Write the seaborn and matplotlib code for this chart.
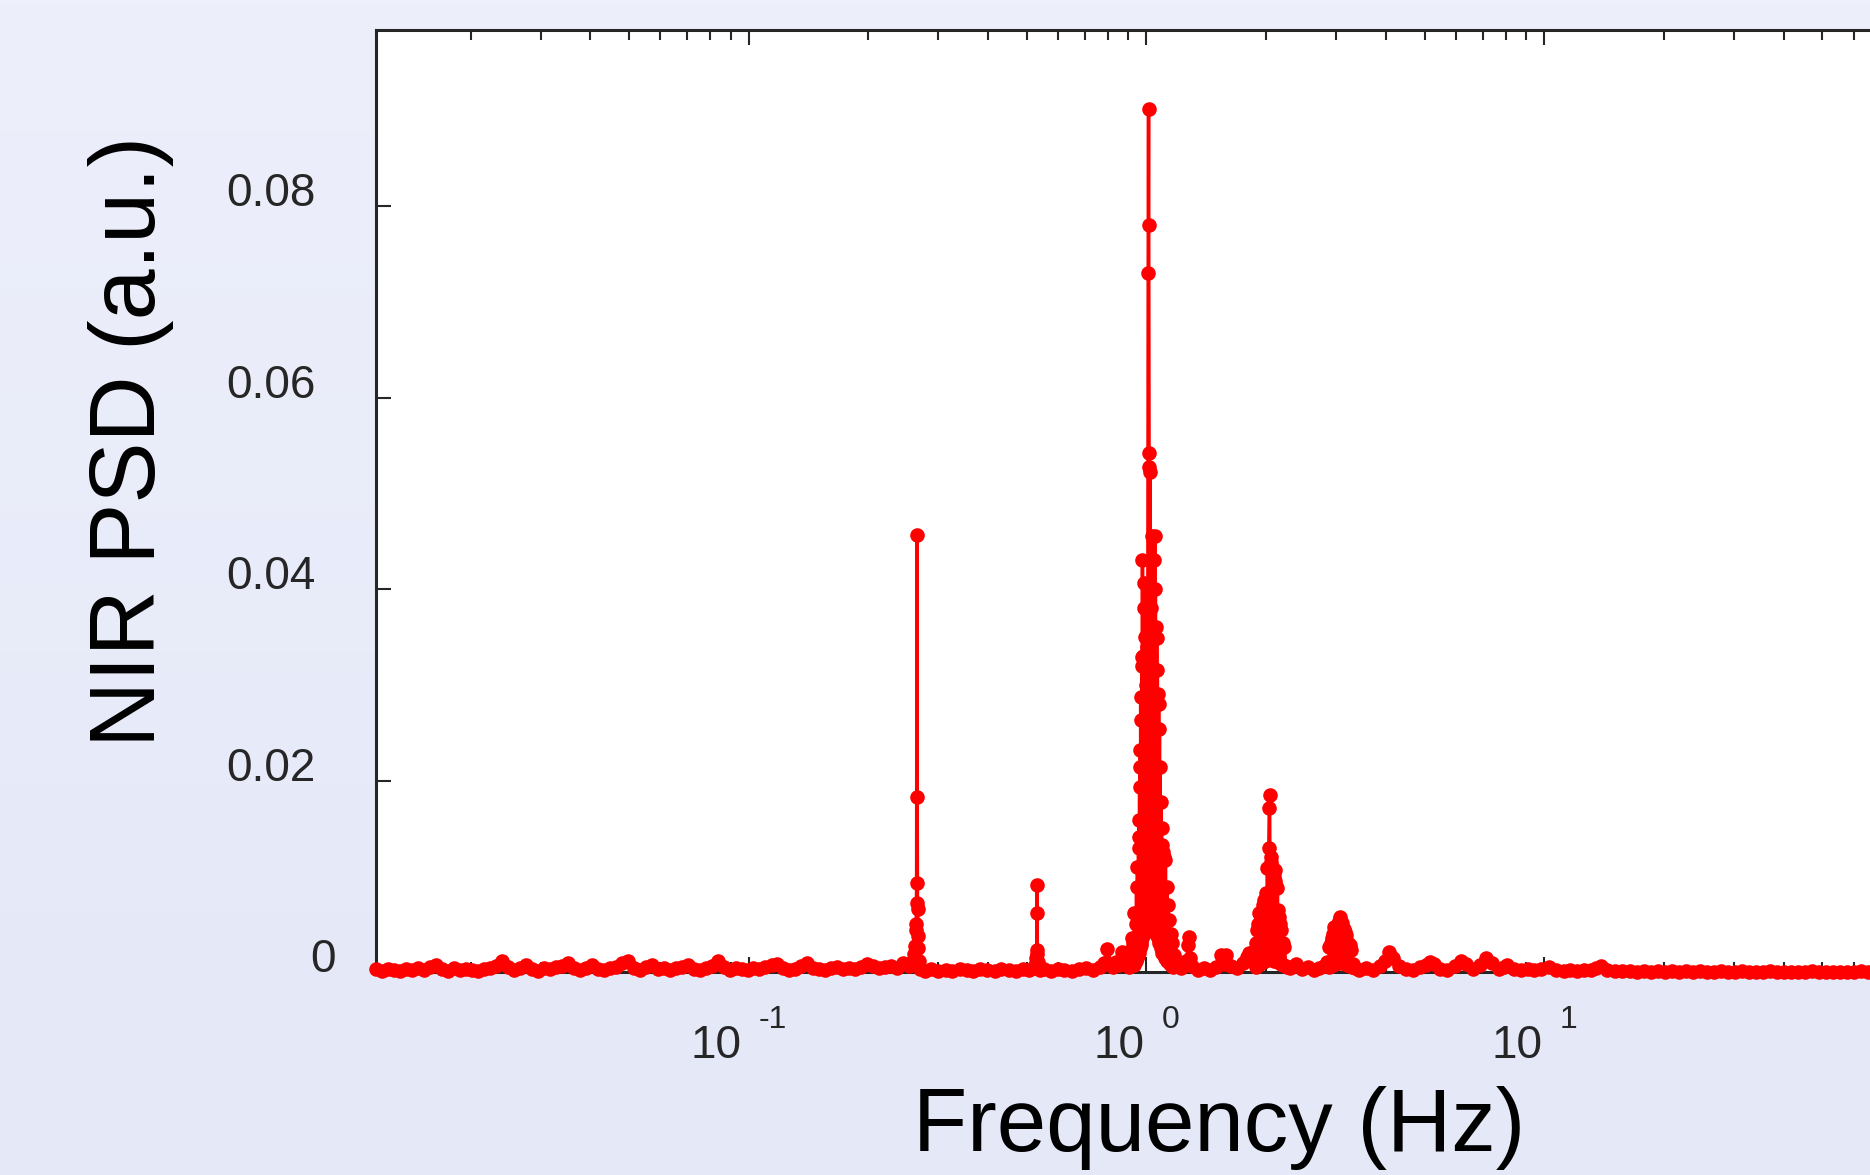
import numpy as np
import pandas as pd
import matplotlib
matplotlib.use('Agg')
import matplotlib.pyplot as plt
import seaborn as sns
from matplotlib.ticker import NullLocator

# values, (frequency Hz, PSD a.u.) per stretch of the spectrum
low_band = [
    (0.01156, 0.0003), (0.01197, 0.0001), (0.01239, 0.0003), (0.01283, 0.0002),
    (0.01328, 0.0001), (0.01375, 0.0003), (0.01424, 0.0002), (0.01474, 0.0004),
    (0.01526, 0.0002), (0.01580, 0.0005), (0.01636, 0.0007), (0.01693, 0.0003),
    (0.01753, 0.0001), (0.01815, 0.0004), (0.01879, 0.0002), (0.01945, 0.0003),
    (0.02014, 0.0002), (0.02085, 0.0001), (0.02159, 0.0003), (0.02235, 0.0004),
    (0.02314, 0.0006), (0.02395, 0.0011), (0.02480, 0.0005), (0.02567, 0.0002),
    (0.02658, 0.0004), (0.02752, 0.0007), (0.02849, 0.0003), (0.02949, 0.0001),
    (0.03053, 0.0004), (0.03161, 0.0003), (0.03273, 0.0005), (0.03388, 0.0006),
    (0.03508, 0.0009), (0.03632, 0.0004), (0.03760, 0.0002), (0.03892, 0.0004),
    (0.04030, 0.0007), (0.04172, 0.0003), (0.04319, 0.0002), (0.04472, 0.0004),
    (0.04630, 0.0005), (0.04793, 0.0009), (0.04962, 0.0011), (0.05137, 0.0004),
    (0.05319, 0.0002), (0.05506, 0.0005), (0.05701, 0.0007), (0.05902, 0.0003),
    (0.06110, 0.0004), (0.06326, 0.0002), (0.06549, 0.0004), (0.06780, 0.0005),
    (0.07020, 0.0007), (0.07267, 0.0003), (0.07524, 0.0002), (0.07789, 0.0004),
    (0.08064, 0.0006), (0.08349, 0.0011), (0.08644, 0.0005), (0.08949, 0.0002),
    (0.09265, 0.0004), (0.09592, 0.0003), (0.09930, 0.0002), (0.1028, 0.0004),
    (0.1064, 0.0003), (0.1102, 0.0005), (0.1141, 0.0007), (0.1181, 0.0008),
    (0.1223, 0.0004), (0.1266, 0.0002), (0.1311, 0.0003), (0.1357, 0.0006),
    (0.1405, 0.0009), (0.1454, 0.0004), (0.1506, 0.0003), (0.1559, 0.0002),
    (0.1614, 0.0004), (0.1671, 0.0005), (0.1730, 0.0003), (0.1791, 0.0004),
    (0.1854, 0.0003), (0.1919, 0.0005), (0.1987, 0.0008), (0.2057, 0.0006),
    (0.2130, 0.0004), (0.2205, 0.0005), (0.2283, 0.0006), (0.2363, 0.0004),
    (0.2447, 0.0009), (0.2533, 0.0006),
]

spike_027 = [
    (0.2580, 0.0010), (0.2610, 0.0019), (0.2625, 0.0027), (0.2632, 0.0044),
    (0.2638, 0.0050), (0.2643, 0.0093), (0.2648, 0.0456), (0.2652, 0.0183),
    (0.2656, 0.0072), (0.2660, 0.0066), (0.2665, 0.0038), (0.2670, 0.0025),
    (0.2680, 0.0012), (0.2700, 0.0003),
]

mid_band = [
    (0.2770, 0.0001), (0.2880, 0.0003), (0.3000, 0.0001), (0.3130, 0.0002),
    (0.3250, 0.0001), (0.3390, 0.0003), (0.3530, 0.0002), (0.3670, 0.0001),
    (0.3820, 0.0003), (0.3980, 0.0002), (0.4150, 0.0001), (0.4320, 0.0003),
    (0.4500, 0.0002), (0.4690, 0.0001), (0.4880, 0.0003), (0.5080, 0.0002),
    (0.5200, 0.0004), (0.5260, 0.0007),
    (0.5510, 0.0003), (0.5740, 0.0001), (0.5980, 0.0003), (0.6220, 0.0002),
    (0.6480, 0.0001), (0.6750, 0.0003), (0.7030, 0.0004), (0.7320, 0.0002),
    (0.7620, 0.0005), (0.7800, 0.0009), (0.7980, 0.0024), (0.8150, 0.0008),
    (0.8260, 0.0005), (0.8400, 0.0010), (0.8550, 0.0007), (0.8700, 0.0021),
    (0.8800, 0.0009),
]

spike_053 = [
    (0.5290, 0.0015), (0.5300, 0.0023), (0.5305, 0.0091), (0.5310, 0.0062),
    (0.5315, 0.0019), (0.5330, 0.0010), (0.5400, 0.0002),
]

main_peak = [
    (0.900, 0.0012), (0.905, 0.0005), (0.910, 0.0022), (0.914, 0.0006),
    (0.917, 0.0036), (0.921, 0.0008), (0.925, 0.0030), (0.929, 0.0007),
    (0.933, 0.0062), (0.936, 0.0010), (0.940, 0.0050), (0.942, 0.0012),
    (0.944, 0.0089), (0.946, 0.0015), (0.949, 0.0110), (0.952, 0.0018),
    (0.955, 0.0130), (0.957, 0.0020), (0.959, 0.0159), (0.960, 0.0141),
    (0.961, 0.0193), (0.962, 0.0025), (0.963, 0.0214), (0.964, 0.0030),
    (0.965, 0.0232), (0.966, 0.0028), (0.967, 0.0287), (0.968, 0.0035),
    (0.969, 0.0263), (0.971, 0.0030), (0.973, 0.0329), (0.974, 0.0040),
    (0.975, 0.0320), (0.976, 0.0035), (0.977, 0.0430), (0.979, 0.0045),
    (0.981, 0.0330), (0.983, 0.0040), (0.985, 0.0380), (0.987, 0.0050),
    (0.988, 0.0406), (0.990, 0.0045), (0.992, 0.0350), (0.994, 0.0055),
    (0.996, 0.0300), (0.998, 0.0050), (1.000, 0.0380), (1.002, 0.0060),
    (1.004, 0.0340), (1.006, 0.0055), (1.008, 0.0405), (1.010, 0.0730),
    (1.012, 0.0901), (1.013, 0.0780), (1.015, 0.0542), (1.016, 0.0527),
    (1.018, 0.0060), (1.020, 0.0522), (1.022, 0.0050), (1.024, 0.0380),
    (1.026, 0.0055), (1.028, 0.0330), (1.030, 0.0050), (1.033, 0.0455),
    (1.036, 0.0060), (1.039, 0.0360), (1.042, 0.0050), (1.045, 0.0430),
    (1.047, 0.0055), (1.049, 0.0455), (1.051, 0.0045), (1.053, 0.0400),
    (1.055, 0.0050), (1.057, 0.0360), (1.059, 0.0040), (1.061, 0.0349),
    (1.063, 0.0045), (1.065, 0.0315), (1.067, 0.0035), (1.069, 0.0290),
    (1.071, 0.0040), (1.073, 0.0280), (1.075, 0.0030), (1.078, 0.0254),
    (1.080, 0.0035), (1.082, 0.0214), (1.084, 0.0030), (1.087, 0.0178),
    (1.089, 0.0025), (1.091, 0.0150), (1.093, 0.0020), (1.095, 0.0133),
    (1.098, 0.0022), (1.101, 0.0125), (1.104, 0.0018), (1.108, 0.0120),
    (1.112, 0.0015), (1.116, 0.0117), (1.120, 0.0015), (1.125, 0.0089),
    (1.129, 0.0012), (1.134, 0.0070), (1.138, 0.0010), (1.142, 0.0054),
    (1.147, 0.0008), (1.152, 0.0040), (1.157, 0.0006), (1.162, 0.0030),
    (1.168, 0.0005), (1.175, 0.0018), (1.183, 0.0008),
]

shoulder = [
    (1.224, 0.0004), (1.260, 0.0012), (1.275, 0.0028), (1.282, 0.0037),
    (1.290, 0.0015), (1.305, 0.0006), (1.351, 0.0002), (1.399, 0.0004),
    (1.448, 0.0002), (1.499, 0.0005), (1.543, 0.0018), (1.565, 0.0008),
    (1.589, 0.0018), (1.635, 0.0006), (1.693, 0.0004), (1.752, 0.0009),
    (1.790, 0.0016), (1.815, 0.0020), (1.840, 0.0012),
]

harmonic_2 = [
    (1.860, 0.0010), (1.878, 0.0023), (1.885, 0.0005), (1.890, 0.0030),
    (1.895, 0.0006), (1.900, 0.0044), (1.905, 0.0007), (1.912, 0.0050),
    (1.918, 0.0008), (1.923, 0.0062), (1.930, 0.0008), (1.940, 0.0055),
    (1.945, 0.0009), (1.950, 0.0060), (1.955, 0.0010), (1.960, 0.0070),
    (1.965, 0.0010), (1.970, 0.0065), (1.975, 0.0012), (1.980, 0.0075),
    (1.985, 0.0012), (1.990, 0.0072), (1.995, 0.0013), (2.002, 0.0083),
    (2.008, 0.0015), (2.014, 0.0109), (2.020, 0.0015), (2.030, 0.0130),
    (2.036, 0.0171), (2.040, 0.0185), (2.046, 0.0018), (2.051, 0.0120),
    (2.056, 0.0015), (2.060, 0.0115), (2.065, 0.0015), (2.070, 0.0110),
    (2.075, 0.0014), (2.080, 0.0105), (2.085, 0.0014), (2.090, 0.0100),
    (2.095, 0.0012), (2.100, 0.0095), (2.109, 0.0107), (2.115, 0.0012),
    (2.120, 0.0090), (2.127, 0.0011), (2.134, 0.0088), (2.140, 0.0010),
    (2.145, 0.0065), (2.152, 0.0010), (2.159, 0.0057), (2.165, 0.0009),
    (2.170, 0.0050), (2.177, 0.0008), (2.184, 0.0044), (2.192, 0.0008),
    (2.200, 0.0030), (2.210, 0.0007), (2.223, 0.0026), (2.240, 0.0006),
    (2.260, 0.0005),
]

gap_23 = [
    (2.30, 0.0004), (2.38, 0.0008), (2.46, 0.0003), (2.55, 0.0005),
    (2.64, 0.0002), (2.72, 0.0004), (2.80, 0.0006),
]

harmonic_3 = [
    (2.850, 0.0010), (2.870, 0.0005), (2.884, 0.0026), (2.895, 0.0006),
    (2.910, 0.0030), (2.920, 0.0007), (2.930, 0.0035), (2.940, 0.0007),
    (2.950, 0.0040), (2.958, 0.0008), (2.967, 0.0047), (2.978, 0.0008),
    (2.990, 0.0045), (3.000, 0.0009), (3.010, 0.0048), (3.020, 0.0009),
    (3.030, 0.0050), (3.040, 0.0009), (3.055, 0.0053), (3.063, 0.0010),
    (3.071, 0.0057), (3.080, 0.0010), (3.090, 0.0052), (3.098, 0.0010),
    (3.107, 0.0051), (3.118, 0.0009), (3.130, 0.0045), (3.140, 0.0009),
    (3.150, 0.0042), (3.165, 0.0008), (3.181, 0.0039), (3.195, 0.0007),
    (3.210, 0.0030), (3.225, 0.0007), (3.240, 0.0028), (3.255, 0.0006),
    (3.273, 0.0023), (3.290, 0.0005), (3.300, 0.0008), (3.350, 0.0004),
]

upper_band = [
    (3.43, 0.0002), (3.57, 0.0004), (3.72, 0.0002), (3.87, 0.0006),
    (3.98, 0.0012), (4.08, 0.0021), (4.17, 0.0015), (4.32, 0.0006),
    (4.50, 0.0003), (4.68, 0.0002), (4.88, 0.0005), (5.05, 0.0007),
    (5.17, 0.0010), (5.29, 0.0008), (5.48, 0.0003), (5.71, 0.0002),
    (5.95, 0.0006), (6.16, 0.0012), (6.36, 0.0008), (6.63, 0.0003),
    (6.90, 0.0007), (7.14, 0.0015), (7.40, 0.0009), (7.70, 0.0003),
    (7.94, 0.0005), (8.08, 0.0007), (8.37, 0.0003), (8.72, 0.0002),
    (9.08, 0.0003), (9.45, 0.0002), (9.84, 0.0003), (10.3, 0.0005),
    (10.7, 0.0002), (11.2, 0.0001), (11.6, 0.0002), (12.1, 0.0001),
    (12.6, 0.0002), (13.1, 0.0002), (13.5, 0.0004), (13.9, 0.0006),
    (14.4, 0.0002),
]

tail = [
    (15.1, 0.00010), (15.7, 0.00006), (16.4, 0.00008), (17.1, 0.00005),
    (17.8, 0.00007), (18.5, 0.00004), (19.3, 0.00006), (20.1, 0.00005),
    (20.9, 0.00007), (21.8, 0.00004), (22.7, 0.00006), (23.6, 0.00005),
    (24.6, 0.00006), (25.6, 0.00004), (26.7, 0.00005), (27.8, 0.00006),
    (28.9, 0.00004), (30.1, 0.00005), (31.4, 0.00006), (32.7, 0.00004),
    (34.0, 0.00005), (35.4, 0.00004), (36.9, 0.00006), (38.4, 0.00005),
    (40.0, 0.00004), (41.7, 0.00005), (43.4, 0.00004), (45.2, 0.00005),
    (47.1, 0.00006), (49.0, 0.00004), (51.0, 0.00005), (53.2, 0.00004),
    (55.4, 0.00005), (57.7, 0.00004), (60.1, 0.00005), (62.6, 0.00006),
    (65.2, 0.00004), (67.9, 0.00005), (70.7, 0.00004), (73.6, 0.00005),
    (76.6, 0.00004), (79.8, 0.00005), (83.1, 0.00004), (86.6, 0.00005),
    (90.2, 0.00004), (93.9, 0.00005), (97.8, 0.00004),
]

y_ticks = [0, 0.02, 0.04, 0.06, 0.08]
y_tick_labels = ['0', '0.02', '0.04', '0.06', '0.08']
x_ticks = [0.1, 1, 10]
x_tick_exponents = ['-1', '0', '1']

segments = [low_band, spike_027, mid_band, spike_053, main_peak, shoulder,
            harmonic_2, gap_23, harmonic_3, upper_band, tail]
df = pd.DataFrame([p for seg in segments for p in seg], columns=['freq', 'psd'])
df = df.sort_values('freq').reset_index(drop=True)

sns.set_theme(style='white')
plt.rcParams['font.family'] = ['Liberation Sans', 'DejaVu Sans']

W, H = 1870, 1175
fig = plt.figure(figsize=(W / 100, H / 100), dpi=100)

# light lavender backdrop, slightly darker at the bottom
bg = fig.add_axes([0, 0, 1, 1], zorder=-10)
top_c = np.array([237, 239, 251]) / 255
bot_c = np.array([228, 232, 247]) / 255
t = np.linspace(0, 1, 256)[:, None, None]
bg.imshow(top_c * (1 - t) + bot_c * t, aspect='auto', extent=[0, 1, 0, 1])
bg.axis('off')

# axes runs past the right edge of the figure, as in the reference
ax = fig.add_axes([376 / W, (H - 972) / H, 1566 / W, 942 / H])
ax.set_facecolor('white')

sns.lineplot(data=df, x='freq', y='psd', ax=ax, estimator=None, sort=True,
             color='#ff0000', linewidth=2.5, marker='o', markersize=10.5,
             markeredgewidth=0, markeredgecolor='#ff0000', clip_on=False, zorder=3)

ax.set_xscale('log')
ax.set_xlim(0.01156, 100)
ax.set_ylim(0, 0.0984)
ax.set_xlabel('')
ax.set_ylabel('')

dark = '#262626'
for side in ['left', 'top', 'bottom']:
    ax.spines[side].set_color(dark)
    ax.spines[side].set_linewidth(2.2)
ax.spines['right'].set_visible(False)

ax.set_yticks(y_ticks)
ax.yaxis.set_minor_locator(NullLocator())
ax.set_xticks(x_ticks)
ax.tick_params(which='both', direction='in', top=True, bottom=True, left=True, right=False,
               labelbottom=False, labelleft=False, color=dark, width=1.5)
ax.tick_params(which='major', length=10.8)
ax.tick_params(which='minor', length=7.2)

# MATLAB-like tick labels
for v, lab in zip(y_ticks, y_tick_labels):
    dx = -40 if lab == '0' else -60
    ax.annotate(lab, xy=(0, v), xycoords=('axes fraction', 'data'), xytext=(dx, 12),
                textcoords='offset pixels', ha='right', va='center', fontsize=33,
                color=dark, annotation_clip=False)

renderer = fig.canvas.get_renderer()
for v, e in zip(x_ticks, x_tick_exponents):
    base = ax.annotate('10', xy=(v, 0), xycoords=('data', 'axes fraction'), xytext=(0, -86),
                       textcoords='offset pixels', ha='left', va='baseline', fontsize=33,
                       color=dark, annotation_clip=False)
    sup = ax.annotate(e, xy=(v, 0), xycoords=('data', 'axes fraction'), xytext=(0, -56),
                      textcoords='offset pixels', ha='left', va='baseline', fontsize=23,
                      color=dark, annotation_clip=False)
    wb = base.get_window_extent(renderer).width
    ws = sup.get_window_extent(renderer).width
    left = -(wb + 17 + ws) / 2 - 10
    base.xyann = (left, -86)
    sup.xyann = (left + wb + 17, -56)

fig.text(1219 / W, 1 - 1151 / H, 'Frequency (Hz)', ha='center', va='baseline',
         fontsize=64, color='black')
fig.text(155 / W, 1 - 441 / H, 'NIR PSD (a.u.)', rotation=90, rotation_mode='anchor',
         ha='center', va='baseline', fontsize=66, color='black')

fig.savefig('out.png', dpi=100)
